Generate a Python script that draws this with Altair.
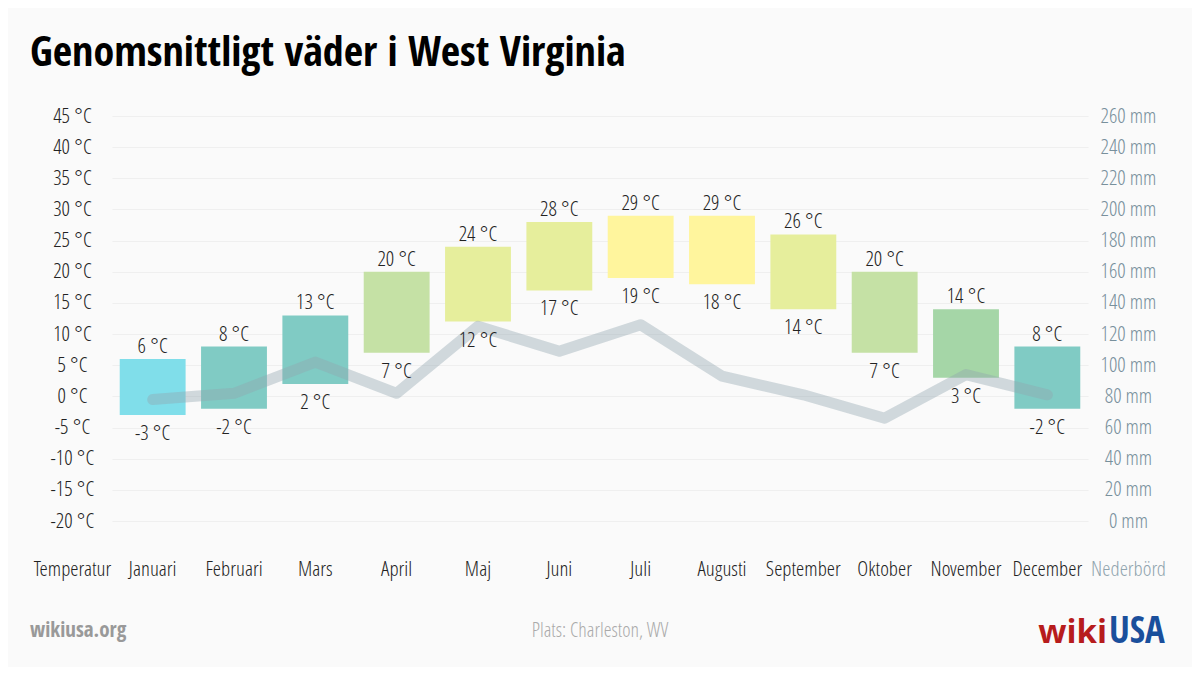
import altair as alt
import pandas as pd

months = ["Januari", "Februari", "Mars", "April", "Maj", "Juni", "Juli",
          "Augusti", "September", "Oktober", "November", "December"]
temp_max = [6, 8, 13, 20, 24, 28, 29, 29, 26, 20, 14, 8]
temp_min = [-3, -2, 2, 7, 12, 17, 19, 18, 14, 7, 3, -2]
precip = [78, 82, 102, 82, 125, 109, 126, 93, 81, 66, 94, 81]
temp_ticks = list(range(-20, 50, 5))
precip_ticks = list(range(0, 280, 20))
color_thresholds = [7.5, 13.5, 17.5, 22.5, 28.5]
color_range = ["#80deea", "#80cbc4", "#a5d6a7", "#c5e1a5", "#e6ee9c", "#fff59d"]

df = pd.DataFrame({"month": months, "tmax": temp_max, "tmin": temp_min, "precip": precip})
one = pd.DataFrame({"k": [0]})

FONT = "'Open Sans Condensed Light', 'Open Sans Condensed', sans-serif"
FONT_BOLD = "'Open Sans Condensed', sans-serif"
FONT_WIDE = "'Open Sans', sans-serif"
FS = 21

x_enc = alt.X(
    "month:N", sort=months, title=None,
    scale=alt.Scale(paddingInner=0.19, paddingOuter=0.095),
    axis=alt.Axis(labelAngle=0, labelPadding=37, labelFontSize=FS, labelColor="#222",
                  labelFont=FONT, domain=False, ticks=False, grid=False, labelBaseline="top"),
)

temp_scale = alt.Scale(domain=[-20, 45], nice=False, zero=False)

bars = alt.Chart(df).mark_bar().encode(
    x=x_enc,
    y=alt.Y(
        "tmin:Q", scale=temp_scale,
        axis=alt.Axis(values=temp_ticks, labelExpr="datum.value + ' °C'", orient="left",
                      labelAlign="center", labelPadding=40, labelFontSize=FS, labelColor="#222",
                      labelFont=FONT, domain=False, ticks=False, grid=True, gridColor="#efefef",
                      title="Temperatur", titleAngle=0, titleX=-40, titleY=442,
                      titleAlign="center", titleBaseline="top", titleFontSize=FS, titleFont=FONT,
                      titleFontWeight="normal", titleColor="#222"),
    ),
    y2="tmax:Q",
    color=alt.Color("tmax:Q", legend=None,
                    scale=alt.Scale(type="threshold", domain=color_thresholds, range=color_range)),
)

line = alt.Chart(df).mark_line(
    strokeWidth=11, color="#90a4ae", opacity=0.4, strokeCap="round", strokeJoin="round"
).encode(
    x=x_enc,
    y=alt.Y(
        "precip:Q", scale=alt.Scale(domain=[0, 260], nice=False, zero=True),
        axis=alt.Axis(values=precip_ticks, labelExpr="datum.value + ' mm'", orient="right",
                      labelAlign="center", labelPadding=40, labelFontSize=FS, labelColor="#78909c",
                      labelFont=FONT, domain=False, ticks=False, grid=False,
                      title="Nederbörd", titleAngle=0, titleX=40, titleY=442,
                      titleAlign="center", titleBaseline="top", titleFontSize=FS, titleFont=FONT,
                      titleFontWeight="normal", titleColor="#90a4ae"),
    ),
)

max_labels = alt.Chart(df).transform_calculate(
    lbl="datum.tmax + ' °C'"
).mark_text(font=FONT, fontSize=FS, color="#222", baseline="alphabetic", dy=-6).encode(
    x=x_enc, y=alt.Y("tmax:Q", scale=temp_scale, axis=None), text="lbl:N"
)

min_labels = alt.Chart(df).transform_calculate(
    lbl="datum.tmin + ' °C'"
).mark_text(font=FONT, fontSize=FS, color="#222", baseline="alphabetic", dy=25).encode(
    x=x_enc, y=alt.Y("tmin:Q", scale=temp_scale, axis=None), text="lbl:N"
)

foot_left = alt.Chart(one).mark_text(
    text="wikiusa.org", font=FONT_BOLD, fontWeight="bold", fontSize=21, color="#999999",
    align="left", baseline="alphabetic"
).encode(x=alt.value(-82), y=alt.value(521))

foot_mid = alt.Chart(one).mark_text(
    text="Plats: Charleston, WV", font=FONT, fontSize=20, color="#aaaaaa",
    align="center", baseline="alphabetic"
).encode(x=alt.value(488), y=alt.value(521))

logo_wiki = alt.Chart(one).mark_text(
    text="wiki", font=FONT_WIDE, fontWeight="bold", fontSize=33, color="#b71c1c",
    align="right", baseline="alphabetic"
).encode(x=alt.value(995), y=alt.value(527))

logo_usa = alt.Chart(one).mark_text(
    text="USA", font=FONT_BOLD, fontWeight="bold", fontSize=37, color="#1a4f9c",
    align="left", baseline="alphabetic"
).encode(x=alt.value(997), y=alt.value(527))

chart = alt.layer(
    bars, line, max_labels, min_labels, foot_left, foot_mid, logo_wiki, logo_usa
).resolve_scale(y="independent").properties(
    width=976, height=405,
    title=alt.TitleParams("Genomsnittligt väder i West Virginia", anchor="start", frame="group",
                          dx=-82, offset=30, font=FONT_BOLD, fontWeight="bold", fontSize=42,
                          color="#000000"),
    autosize=alt.AutoSizeParams(type="none"),
    padding={"left": 104, "top": 108, "right": 104, "bottom": 146},
    background="#fafafa",
).configure_view(stroke=None)

chart.save("out.html", embed_options={"renderer": "svg", "actions": False})
